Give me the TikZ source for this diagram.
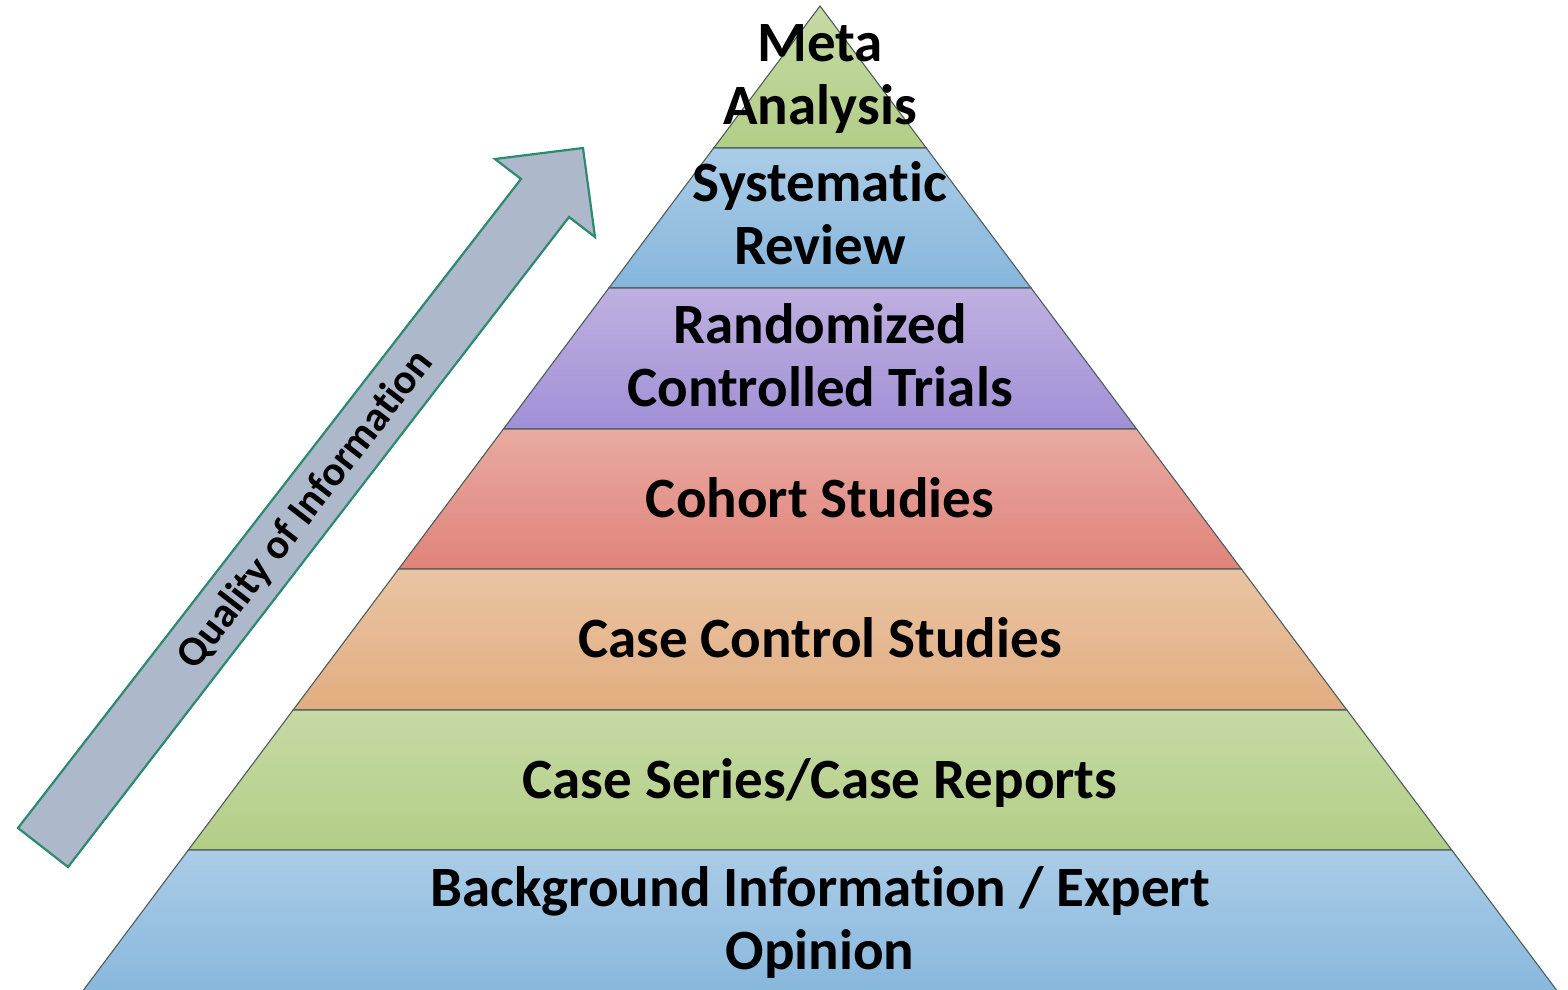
\documentclass[tikz,border=0pt]{standalone}
\usepackage{fontspec}
\setmainfont{Carlito}[Ligatures=NoCommon]
\definecolor{edgegray}{HTML}{4F5C5C}
\definecolor{gAt}{HTML}{C6DAA4}
\definecolor{gAb}{HTML}{B2CE86}
\definecolor{bAt}{HTML}{AACCE7}
\definecolor{bAb}{HTML}{86B6DC}
\definecolor{pAt}{HTML}{BEB0E0}
\definecolor{pAb}{HTML}{A190D6}
\definecolor{rAt}{HTML}{E8AAA2}
\definecolor{rAb}{HTML}{E0837A}
\definecolor{oAt}{HTML}{E9C4A3}
\definecolor{oAb}{HTML}{E2AD80}
\definecolor{arrowfill}{HTML}{ADB9CA}
\definecolor{arrowedge}{HTML}{2E8A6E}
\begin{document}
\begin{tikzpicture}[x=1pt,y=-1pt,
  layer/.style={draw=edgegray, line width=1.1pt, line join=miter},
  lbl/.style={font=\fontsize{57}{63}\selectfont\bfseries, align=center, inner sep=0pt, text=black},
  qual/.style={font=\fontsize{42}{48}\selectfont\bfseries, inner sep=0pt, text=black},
  arrowshape/.style={fill=arrowfill, draw=arrowedge, line width=2.2pt, line join=miter, miter limit=10},
]
\useasboundingbox (0,0) rectangle (1568,989);
\clip (0,0) rectangle (1568,989);
% pyramid layers
\path[layer, top color=gAt, bottom color=gAb] (820,6) -- (926.3,148) -- (713.7,148) -- cycle;
\path[layer, top color=bAt, bottom color=bAb] (713.7,148) -- (926.3,148) -- (1031.1,288) -- (608.9,288) -- cycle;
\path[layer, top color=pAt, bottom color=pAb] (608.9,288) -- (1031.1,288) -- (1136.6,429) -- (503.4,429) -- cycle;
\path[layer, top color=rAt, bottom color=rAb] (503.4,429) -- (1136.6,429) -- (1241.4,569) -- (398.6,569) -- cycle;
\path[layer, top color=oAt, bottom color=oAb] (398.6,569) -- (1241.4,569) -- (1346.9,710) -- (293.1,710) -- cycle;
\path[layer, top color=gAt, bottom color=gAb] (293.1,710) -- (1346.9,710) -- (1451.7,850) -- (188.3,850) -- cycle;
\path[layer, top color=bAt, bottom color=bAb] (188.3,850) -- (1451.7,850) -- (1564,1000) -- (76,1000) -- cycle;
% labels
\node[lbl] (meta) at (820,79) {Meta\\Analysis};
\node[lbl] (sys) at (820,213) {Systematic\\Review};
\node[lbl] (rct) at (820,355) {Randomized\\Controlled Trials};
\node[lbl] (coh) at (820,498) {Cohort Studies};
\node[lbl] (cc) at (820,638) {Case Control Studies};
\node[lbl] (cs) at (820,783) {Case Series/Case Reports};
\node[lbl] (bg) at (820,922) {Background Information / Expert\\Opinion};
% quality arrow
\draw[arrowshape] (18,828) -- (521,179) -- (495,159) -- (583,148) -- (595,237) -- (569,217) -- (68,867) -- cycle;
\node[qual, rotate=52.3] (q) at (306,510) {Quality of Information};
\end{tikzpicture}
\end{document}
